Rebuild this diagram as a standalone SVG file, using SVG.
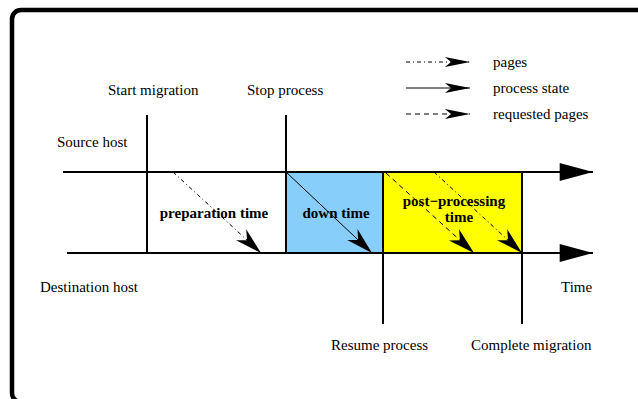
<svg xmlns="http://www.w3.org/2000/svg" width="638" height="399" viewBox="0 0 638 399">
<style>
.t{font-family:"Liberation Serif","Times New Roman",serif;font-size:15px;fill:#000}
.b{font-family:"Liberation Serif","Times New Roman",serif;font-size:15px;font-weight:bold;fill:#000}
.axis{stroke:#000;stroke-width:2;fill:none}
.mark{stroke:#000;stroke-width:2;fill:none}
.arr{stroke:#000;stroke-width:1;fill:none}
.dd{stroke-dasharray:4 3 1 3}
.ds{stroke-dasharray:5 4}
</style>
<defs>
<marker id="big" markerUnits="userSpaceOnUse" markerWidth="40" markerHeight="20" viewBox="-31 -9 32 18" refX="0" refY="0" orient="auto">
<path d="M0,0 L-30,-8 L-30,8 Z" fill="#000"/>
</marker>
<marker id="barb" markerUnits="userSpaceOnUse" markerWidth="30" markerHeight="18" viewBox="-28 -9 29 18" refX="0" refY="0" orient="auto">
<path d="M0,0 L-27,-7.5 L-19,0 L-27,7.5 Z" fill="#000"/>
</marker>
<marker id="leg" markerUnits="userSpaceOnUse" markerWidth="30" markerHeight="14" viewBox="-26 -7 27 14" refX="0" refY="0" orient="auto">
<path d="M0,0 L-25,-5 L-19,0 L-25,5 Z" fill="#000"/>
</marker>
</defs>
<rect width="638" height="399" fill="#fff"/>
<rect id="frame" x="12" y="10" width="680" height="392" rx="9" fill="none" stroke="#000" stroke-width="4.5"/>

<g id="periods">
<rect id="downtime" x="286" y="172" width="97" height="81" fill="#87CEFA" stroke="#000" stroke-width="1.5"/>
<rect id="postprocessing" x="383" y="172" width="139" height="81" fill="#FFFF00" stroke="#000" stroke-width="1.5"/>
</g>

<g id="connectors">
<line class="axis" x1="63" y1="172" x2="593" y2="172" marker-end="url(#big)"/>
<line class="axis" x1="67" y1="253" x2="593" y2="253" marker-end="url(#big)"/>
<line class="mark" x1="147" y1="115" x2="147" y2="253"/>
<line class="mark" x1="286" y1="115" x2="286" y2="253"/>
<line class="mark" x1="383" y1="172" x2="383" y2="324"/>
<line class="mark" x1="522" y1="172" x2="522" y2="324"/>
<line class="arr dd" x1="173" y1="172" x2="261" y2="253" marker-end="url(#barb)"/>
<line class="arr" x1="286" y1="172" x2="372" y2="253" marker-end="url(#barb)"/>
<line class="arr ds" x1="386" y1="173" x2="474" y2="253" marker-end="url(#barb)"/>
<line class="arr dd" x1="434" y1="172" x2="522" y2="253" marker-end="url(#barb)"/>
</g>

<g id="legend">
<line class="arr dd" x1="406" y1="62" x2="470" y2="62" marker-end="url(#leg)"/>
<line class="arr" x1="406" y1="88" x2="470" y2="88" marker-end="url(#leg)"/>
<line class="arr ds" x1="406" y1="114" x2="470" y2="114" marker-end="url(#leg)"/>
<text class="t" x="493" y="67">pages</text>
<text class="t" x="493" y="93">process state</text>
<text class="t" x="493" y="119">requested pages</text>
</g>

<g id="labels">
<text class="t" x="108" y="95">Start migration</text>
<text class="t" x="247" y="95">Stop process</text>
<text class="t" x="57" y="147">Source host</text>
<text class="t" x="40" y="292">Destination host</text>
<text class="t" x="561" y="292">Time</text>
<text class="t" x="331" y="350">Resume process</text>
<text class="t" x="471" y="350">Complete migration</text>
</g>

<g id="period-labels">
<text class="b" x="214" y="218" text-anchor="middle">preparation time</text>
<text class="b" x="336" y="218" text-anchor="middle">down time</text>
<text class="b" x="454" y="206" text-anchor="middle">post−processing</text>
<text class="b" x="459" y="222" text-anchor="middle">time</text>
</g>
</svg>
